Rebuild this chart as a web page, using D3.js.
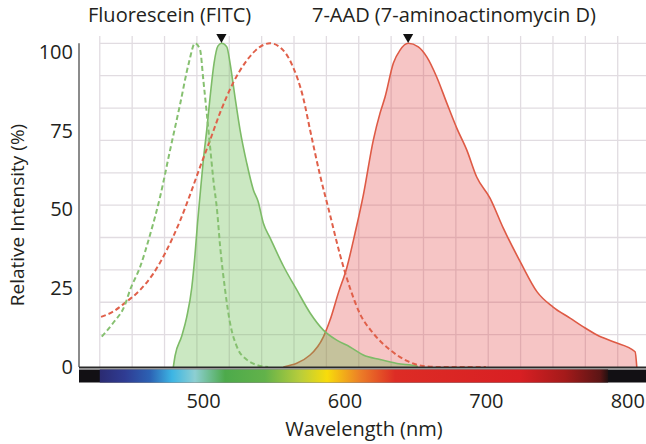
<!DOCTYPE html>
<html>
<head>
<meta charset="utf-8">
<script src="https://cdn.jsdelivr.net/npm/d3@7"></script>
<style>
  body { margin: 0; background: #fff; }
  svg text { font-family: "Open Sans", sans-serif; fill: #231f20; }
</style>
</head>
<body>
<div id="chartDiv"></div>
<script>
// spectra as [wavelength nm, relative intensity %]
const fitcEx = [[428.4,9.4],[436.4,13.6],[444.8,19.2],[448.4,23.8],[455.5,30.9],[462.5,40.8],[469.6,52.5],[476.7,67],[483.7,81],[490,94],[494.3,100],[497.9,98],[500.2,88.7],[502.6,78.5],[505,68],[507.3,57.8],[509.9,48.5],[512,37.7],[515.6,23.8],[519.1,13.6],[524,6.2],[531.1,2.2],[538.2,0.6],[546,0]];
const fitcEm = [[479,0],[480.2,3.4],[484.9,9.5],[488.5,15.5],[492,24.4],[494.3,34.6],[496.1,44.5],[497.9,53.1],[500.2,63.9],[502.6,73.2],[505,83.4],[507.8,93.9],[510.6,99.2],[513.2,100],[516.8,98.9],[519.1,93.9],[522.6,83.4],[526.2,73.2],[530.9,63],[535.6,54.7],[538.9,51.2],[542.6,44.5],[547.4,39.9],[556.8,31.2],[566.3,23.8],[575.7,16.7],[585.1,11.4],[594.5,8.3],[603.9,6.2],[613.3,3.7],[625.2,2.3],[637.2,1.1],[651.3,0.3],[651.4,0]];
const aadEx = [[427.9,15.5],[436.4,17.1],[444.8,19.8],[455.5,23.8],[464.6,28.7],[474.3,36.1],[483.7,45.1],[490.8,53.2],[497.9,61.8],[505,70.1],[512,78.5],[521.2,87.7],[531.1,94.8],[540.3,98.9],[547.4,100],[556.6,97.9],[563.6,92.7],[570.7,83.4],[575.7,73.2],[582.7,59.3],[589.8,47],[596.9,34.6],[603.9,24.4],[611,16.4],[620.2,10.5],[632.2,5.3],[644.2,1.9],[655.6,0.3],[667.6,0],[700,0]];
const aadEm = [[556.8,0],[575.7,3.7],[585.1,9.3],[589.8,14.5],[595.7,22.9],[601.6,30.6],[607.5,41.4],[613.3,53],[620.4,70.1],[625.2,78.5],[628.7,83.4],[634.6,93.9],[639.3,97.9],[645,100],[652.2,98.9],[658.2,95.8],[665.2,89.6],[672.3,81.6],[679.4,73.8],[686.5,67],[693.5,58.7],[702.9,52.2],[712.3,42.9],[724.8,32.1],[736.2,23.2],[747.5,18.5],[759.5,15.1],[768.9,12.4],[778.6,9.9],[790.1,7.8],[805.5,4.7],[806.7,0]];

const dyeNames = ["Fluorescein (FITC)", "7-AAD (7-aminoactinomycin D)"];
const peakNm = [513, 645];
const xTicks = [500, 600, 700, 800];
const yTicks = [0, 25, 50, 75, 100];

// colour bar under the axis
const spectrumNm = [427, 444.8, 462.5, 478, 494.3, 515.6, 543.8, 568.6, 587.7, 611, 635.8, 724.2, 756, 780.8, 786.4];
const spectrumColor = ['#2b2b72','#2f3c93','#2c62b4','#3cb5e4','#8dcfd2','#4daa4b','#62b24a','#b8cd3b','#f8dc0b','#ec7e27','#dd2c25','#d81f23','#a41a1a','#5b1515','#231010'];

const width = 646, height = 444;
const svg = d3.select('#chartDiv').append('svg')
    .attr('width', width)
    .attr('height', height);

const x = d3.scaleLinear().domain([412.3, 813.2]).range([79, 646]);
const y = d3.scaleLinear().domain([0, 100]).range([367, 43.3]);
// tick labels sit a bit lower than the grid in the original
const yLab = y.copy().range([367, 52]);

// grid: square cells, 10% high
const cell = y(0) - y(10);
const grid = svg.append('g').attr('stroke', '#e1dce1').attr('stroke-width', 1.3);
grid.selectAll('line.v')
    .data(d3.range(x(427), width, cell))
    .enter().append('line')
    .attr('x1', d => d).attr('x2', d => d)
    .attr('y1', 36).attr('y2', y(0));
grid.selectAll('line.h')
    .data(d3.range(10, 101, 10))
    .enter().append('line')
    .attr('x1', x(427)).attr('x2', width)
    .attr('y1', d => y(d)).attr('y2', d => y(d));

const area = d3.area()
    .x(d => x(d[0]))
    .y0(y(0))
    .y1(d => y(d[1]))
    .curve(d3.curveMonotoneX);
const line = d3.line()
    .x(d => x(d[0]))
    .y(d => y(d[1]))
    .curve(d3.curveMonotoneX);

// 7-AAD emission
svg.append('path').datum(aadEm)
    .attr('d', area)
    .attr('fill', 'rgba(226,62,62,0.3)');
svg.append('path').datum(aadEm)
    .attr('d', line)
    .attr('fill', 'none')
    .attr('stroke', '#de5a45')
    .attr('stroke-width', 1.6);

// FITC emission
svg.append('path').datum(fitcEm)
    .attr('d', area)
    .attr('fill', 'rgba(105,188,80,0.35)');
svg.append('path').datum(fitcEm)
    .attr('d', line)
    .attr('fill', 'none')
    .attr('stroke', '#7dbb67')
    .attr('stroke-width', 1.6);

// excitation curves, dashed
svg.append('path').datum(aadEx)
    .attr('d', line)
    .attr('fill', 'none')
    .attr('stroke', '#e0604a')
    .attr('stroke-width', 2)
    .attr('stroke-dasharray', '5,3');
svg.append('path').datum(fitcEx)
    .attr('d', line)
    .attr('fill', 'none')
    .attr('stroke', '#86c070')
    .attr('stroke-width', 2)
    .attr('stroke-dasharray', '5,3');

// axes lines
svg.append('line')
    .attr('x1', 79).attr('x2', 79)
    .attr('y1', y(100)).attr('y2', y(0))
    .attr('stroke', '#6e6e6e').attr('stroke-width', 1.6);
svg.append('line')
    .attr('x1', 79).attr('x2', width)
    .attr('y1', y(0) + 0.5).attr('y2', y(0) + 0.5)
    .attr('stroke', '#2a2a2a').attr('stroke-width', 2);

// spectrum bar
const grad = svg.append('defs').append('linearGradient')
    .attr('id', 'spectrum')
    .attr('gradientUnits', 'userSpaceOnUse')
    .attr('x1', x(spectrumNm[0]))
    .attr('x2', x(spectrumNm[spectrumNm.length - 1]));
const span = spectrumNm[spectrumNm.length - 1] - spectrumNm[0];
grad.selectAll('stop')
    .data(spectrumNm)
    .enter().append('stop')
    .attr('offset', d => (d - spectrumNm[0]) / span)
    .attr('stop-color', (d, i) => spectrumColor[i]);

svg.append('rect')
    .attr('x', 79).attr('y', 369.5)
    .attr('width', width - 79).attr('height', 13)
    .attr('fill', '#121014');
svg.append('rect')
    .attr('x', x(spectrumNm[0])).attr('y', 369.5)
    .attr('width', x(spectrumNm[spectrumNm.length - 1]) - x(spectrumNm[0]))
    .attr('height', 13)
    .attr('fill', 'url(#spectrum)');

// peak markers
svg.selectAll('path.peak')
    .data(peakNm)
    .enter().append('path')
    .attr('class', 'peak')
    .attr('d', d3.symbol(d3.symbolTriangle, 45))
    .attr('transform', d => `translate(${x(d)},37) rotate(180)`)
    .attr('fill', '#111');

// dye names
svg.append('text')
    .attr('x', 88).attr('y', 22)
    .style('font-size', '20px')
    .text(dyeNames[0]);
svg.append('text')
    .attr('x', 312).attr('y', 22)
    .style('font-size', '20px')
    .text(dyeNames[1]);

// tick labels
const yAxis = svg.append('g')
    .attr('transform', 'translate(73,0)')
    .call(d3.axisLeft(yLab).tickValues(yTicks).tickSize(0).tickPadding(0));
const xAxis = svg.append('g')
    .attr('transform', 'translate(0,384)')
    .call(d3.axisBottom(x).tickValues(xTicks).tickSize(0).tickPadding(10));
[yAxis, xAxis].forEach(g => {
    g.select('.domain').remove();
    g.selectAll('text')
        .style('font-size', '20px')
        .style('font-family', '"Open Sans", sans-serif')
        .attr('fill', '#231f20');
});

svg.append('text')
    .attr('x', 364).attr('y', 436)
    .style('text-anchor', 'middle')
    .style('font-size', '20px')
    .text('Wavelength (nm)');
svg.append('text')
    .attr('transform', 'translate(24,215) rotate(-90)')
    .style('text-anchor', 'middle')
    .style('font-size', '19px')
    .text('Relative Intensity (%)');
</script>
</body>
</html>
